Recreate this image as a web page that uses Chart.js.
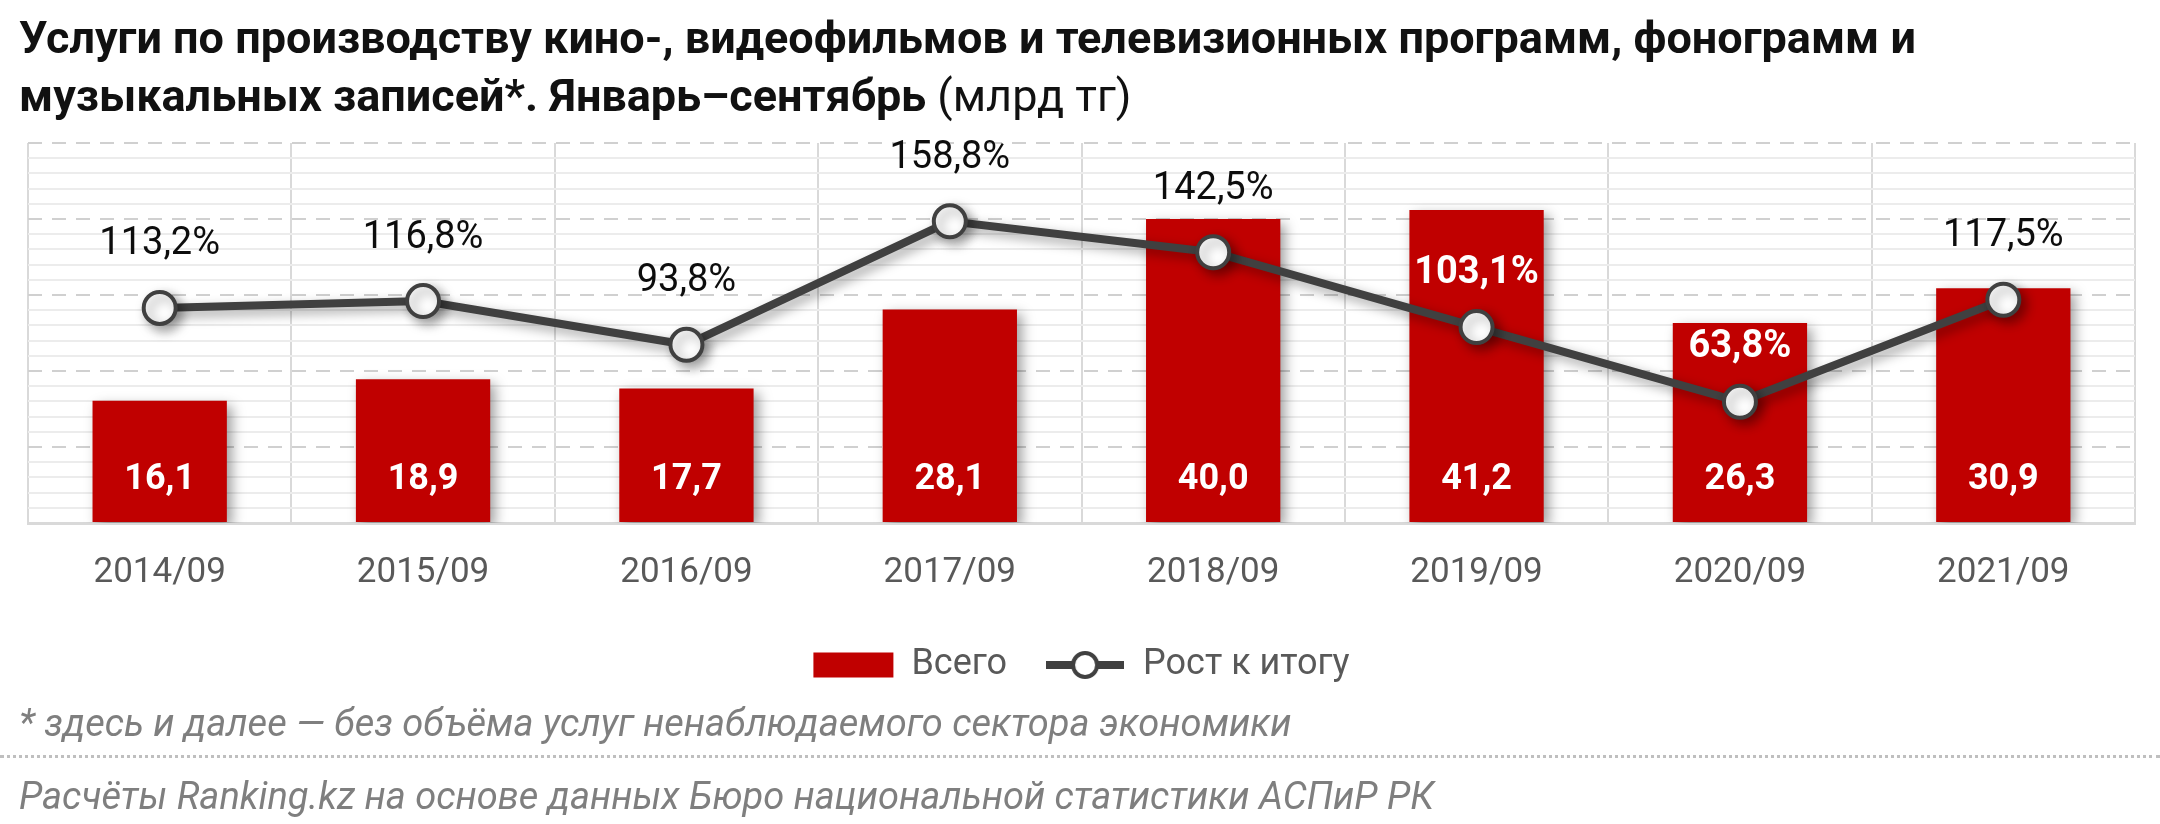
<!DOCTYPE html>
<html>
<head>
<meta charset="utf-8">
<script src="https://cdn.jsdelivr.net/npm/chart.js@4.4.0/dist/chart.umd.min.js"></script>
<style>
  html, body { margin: 0; padding: 0; background: #fff; }
  #wrap { position: relative; width: 2160px; height: 824px; overflow: hidden; font-family: Roboto, sans-serif; }
  #title { position: absolute; left: 19px; top: 9px; font-size: 45px; line-height: 58px; font-weight: bold; color: #111; white-space: nowrap; }
  #title span { font-weight: normal; }
  #chartbox { position: absolute; left: 0; top: 0; width: 2160px; height: 824px; }
  #note { position: absolute; left: 19px; top: 701px; font-size: 38px; line-height: 44px; font-style: italic; color: #7f7f7f; }
  #sep { position: absolute; left: 0; width: 2160px; top: 755px; border-top: 3px dotted #bfbfbf; }
  #source { position: absolute; left: 19px; top: 774px; font-size: 38px; line-height: 44px; font-style: italic; color: #7f7f7f; }
</style>
</head>
<body>
<div id="wrap">
  <div id="chartbox"><canvas id="barChart"></canvas></div>
  <div id="title">Услуги по производству кино-, видеофильмов и телевизионных программ, фонограмм и<br>музыкальных записей*. Январь–сентябрь <span>(млрд тг)</span></div>
  <div id="note">* здесь и далее — без объёма услуг ненаблюдаемого сектора экономики</div>
  <div id="sep"></div>
  <div id="source">Расчёты Ranking.kz на основе данных Бюро национальной статистики АСПиР РК</div>
</div>
<script>
// data
var periods = ["2014/09", "2015/09", "2016/09", "2017/09", "2018/09", "2019/09", "2020/09", "2021/09"];
var totals = [16.1, 18.9, 17.7, 28.1, 40.0, 41.2, 26.3, 30.9];
var growth = [113.2, 116.8, 93.8, 158.8, 142.5, 103.1, 63.8, 117.5];
var seriesNames = ["Всего", "Рост к итогу"];

Chart.defaults.font.family = "Roboto";

function fmt(v) {
  return v.toFixed(1).replace(".", ",");
}

// legend icon for the line series
var lineIcon = document.createElement("canvas");
lineIcon.width = 78;
lineIcon.height = 36;
(function() {
  var c = lineIcon.getContext("2d");
  c.strokeStyle = "#404040";
  c.lineWidth = 8;
  c.beginPath(); c.moveTo(0, 18); c.lineTo(78, 18); c.stroke();
  c.beginPath(); c.arc(39, 18, 12, 0, Math.PI * 2);
  c.fillStyle = "#fff"; c.fill();
  c.lineWidth = 4; c.stroke();
})();

// soft drop shadow under bars and line
var shadows = {
  id: "shadows",
  beforeDatasetDraw: function(chart) {
    var ctx = chart.ctx;
    ctx.save();
    ctx.shadowColor = "rgba(0,0,0,0.38)";
    ctx.shadowBlur = 12;
    ctx.shadowOffsetX = 5;
    ctx.shadowOffsetY = 5;
  },
  afterDatasetDraw: function(chart) {
    chart.ctx.restore();
  }
};

// value labels
var valueLabels = {
  id: "valueLabels",
  afterDatasetsDraw: function(chart) {
    var ctx = chart.ctx;
    var bars = chart.getDatasetMeta(0).data;
    var points = chart.getDatasetMeta(1).data;
    ctx.save();
    ctx.textAlign = "center";
    ctx.textBaseline = "middle";
    ctx.font = "bold 36px Roboto";
    ctx.fillStyle = "#fff";
    bars.forEach(function(bar, i) {
      ctx.fillText(fmt(totals[i]), bar.x, bar.base - 42);
    });
    points.forEach(function(pt, i) {
      var y = pt.y - 63;
      // label sits on the red bar -> white bold
      var inside = y > bars[i].y;
      if (inside) y = Math.max(y, pt.y - 54);
      ctx.font = (inside ? "bold " : "") + "38px Roboto";
      ctx.fillStyle = inside ? "#fff" : "#0d0d0d";
      ctx.fillText(fmt(growth[i]) + "%", pt.x, y);
    });
    ctx.restore();
  }
};

var config = {
  type: "bar",
  data: {
    labels: periods,
    datasets: [{
      label: seriesNames[0],
      data: totals,
      backgroundColor: "#C00000",
      barPercentage: 0.51,
      categoryPercentage: 1,
      yAxisID: "y",
      order: 2
    }, {
      type: "line",
      label: seriesNames[1],
      data: growth,
      borderColor: "#404040",
      borderWidth: 8,
      pointRadius: 16,
      pointBackgroundColor: "#fff",
      pointBorderColor: "#404040",
      pointBorderWidth: 4,
      yAxisID: "y1",
      order: 1
    }]
  },
  options: {
    responsive: true,
    maintainAspectRatio: false,
    animation: false,
    layout: { padding: { top: 143, left: 28, right: 25, bottom: 131 } },
    scales: {
      x: {
        grid: { color: "#d9d9d9", lineWidth: 2, drawTicks: false },
        border: { color: "#d9d9d9", width: 3 },
        ticks: { color: "#595959", font: { size: 35 }, padding: 29 },
        afterFit: function(scale) { scale.height -= 14; }
      },
      yMinor: {
        position: "left",
        min: 0,
        max: 50,
        ticks: { display: false, stepSize: 2 },
        grid: {
          drawTicks: false,
          lineWidth: 2,
          color: function(c) { return c.tick && c.tick.value % 10 === 0 ? "rgba(0,0,0,0)" : "#ececec"; }
        },
        border: { display: false }
      },
      y: {
        position: "left",
        min: 0,
        max: 50,
        ticks: { display: false, stepSize: 10 },
        grid: { drawTicks: false, color: "#d0d0d0", lineWidth: 2 },
        border: { display: false, dash: [14, 10] }
      },
      y1: {
        display: false,
        min: 0,
        max: 200
      }
    },
    plugins: {
      legend: {
        position: "bottom",
        labels: {
          usePointStyle: true,
          pointStyleWidth: 80,
          boxHeight: 25,
          padding: 38,
          color: "#595959",
          font: { size: 36 },
          generateLabels: function(chart) {
            var items = Chart.defaults.plugins.legend.labels.generateLabels(chart);
            items.sort(function(a, b) { return a.datasetIndex - b.datasetIndex; });
            items.forEach(function(it) {
              if (it.datasetIndex === 0) {
                it.pointStyle = "rect";
                it.fillStyle = "#C00000";
                it.lineWidth = 0;
              } else {
                it.pointStyle = lineIcon;
              }
            });
            return items;
          }
        }
      },
      tooltip: { enabled: false }
    }
  },
  plugins: [shadows, valueLabels]
};

var ctx = document.getElementById("barChart");
var charts = new Chart(ctx, config);
</script>
</body>
</html>
